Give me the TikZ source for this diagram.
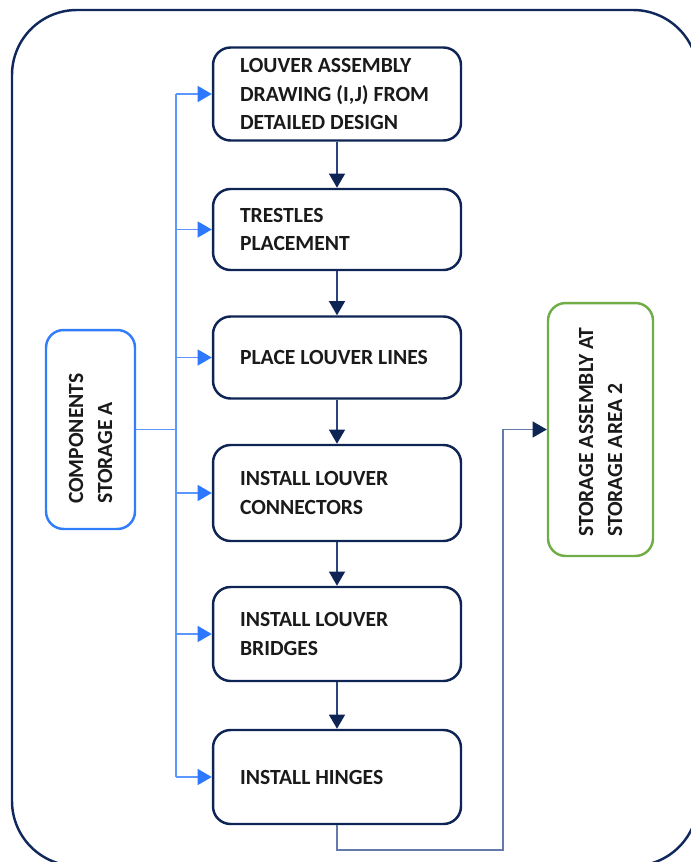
\documentclass[tikz,border=0pt]{standalone}
\usepackage{fontspec}
\setmainfont{Carlito}
\usetikzlibrary{positioning,arrows.meta}
\definecolor{framenavy}{RGB}{16,40,92}
\definecolor{boxnavy}{RGB}{14,36,84}
\definecolor{flownavy}{RGB}{40,68,128}
\definecolor{backslate}{RGB}{100,122,170}
\definecolor{feedline}{RGB}{92,150,255}
\definecolor{feedblue}{RGB}{45,120,255}
\definecolor{storeblue}{RGB}{50,125,250}
\definecolor{storegreen}{RGB}{112,173,71}
\definecolor{inkblack}{RGB}{26,26,26}

\begin{document}
\begin{tikzpicture}[x=0.02cm, y=-0.02cm,
	every block/.style={draw=boxnavy, line width=1.4pt, rounded corners=10pt,
		minimum width=4.96cm, text width=3.88cm, inner xsep=0.54cm, align=left,
		text=inkblack, font=\bfseries\fontsize{12.3}{16}\selectfont,
		execute at begin node={\spaceskip=0pt\xspaceskip=0pt\relax}},
	every store/.style={line width=1.4pt, rounded corners=10pt, rotate=90,
		align=left, text=inkblack, font=\bfseries\fontsize{12.3}{16.5}\selectfont,
		execute at begin node={\spaceskip=0pt\xspaceskip=0pt\relax}},
	feed/.style={draw=feedline, line width=0.9pt},
	feedtip/.tip={Triangle[length=8pt, width=9pt, color=feedblue]},
	flowtip/.tip={Triangle[length=8pt, width=9pt, color=boxnavy]},
	flow/.style={draw=flownavy, line width=0.9pt},
	back/.style={draw=backslate, line width=0.9pt}]
		\useasboundingbox (0,0) rectangle (690,862);
		\draw [draw=framenavy, line width=1.4pt, rounded corners=1.3cm]
			(12,10) rectangle (698,866);

		% assembly steps, top to bottom
		\foreach \name/\y/\h/\txt in {
			drawing/94/93/{LOUVER ASSEMBLY\\DRAWING (I,J) FROM\\DETAILED DESIGN},
			trestles/229.5/81/{TRESTLES\\PLACEMENT},
			lines/357.5/82/{PLACE LOUVER LINES},
			connectors/493/96/{INSTALL LOUVER\\CONNECTORS},
			bridges/634/94/{INSTALL LOUVER\\BRIDGES},
			hinges/777/94/{INSTALL HINGES}} {
			\node [every block/.try, minimum height=\h*0.02cm] (\name) at (337,\y) {\txt};
		};

		% rotated boxes: south is their right side, north their left side
		\node [every store/.try, draw=storeblue, minimum width=3.98cm,
			minimum height=1.78cm, text width=2.98cm, inner xsep=0.5cm]
			(comp) at (90.5,429.5) {COMPONENTS\\STORAGE A};
		\node [every store/.try, draw=storegreen, minimum width=5.06cm,
			minimum height=2.1cm, text width=4.3cm, inner xsep=0.38cm]
			(store) at (600.5,429.5) {STORAGE ASSEMBLY AT\\STORAGE AREA 2};

		% feed lines from the components storage
		\coordinate (bus) at (176,0);
		\coordinate (riser) at (503,0);
		\draw [feed] (comp.south) -- (comp.south -| bus);
		\draw [feed] (bus |- drawing.west) -- (bus |- hinges.west);
		\foreach \name in {drawing,trestles,lines,connectors,bridges,hinges} {
			\draw [feed, -feedtip] (bus |- \name.west) -- (\name.west);
		};

		% step to step
		\foreach \a/\b in {drawing/trestles,trestles/lines,lines/connectors,
			connectors/bridges,bridges/hinges} {
			\draw [flow, -flowtip] (\a) -- (\b);
		};

		\draw [back, -flowtip] (hinges.south) -- ++(0,25) -| (riser |- store.north)
			-- (store.north);
	\end{tikzpicture}
\end{document}
